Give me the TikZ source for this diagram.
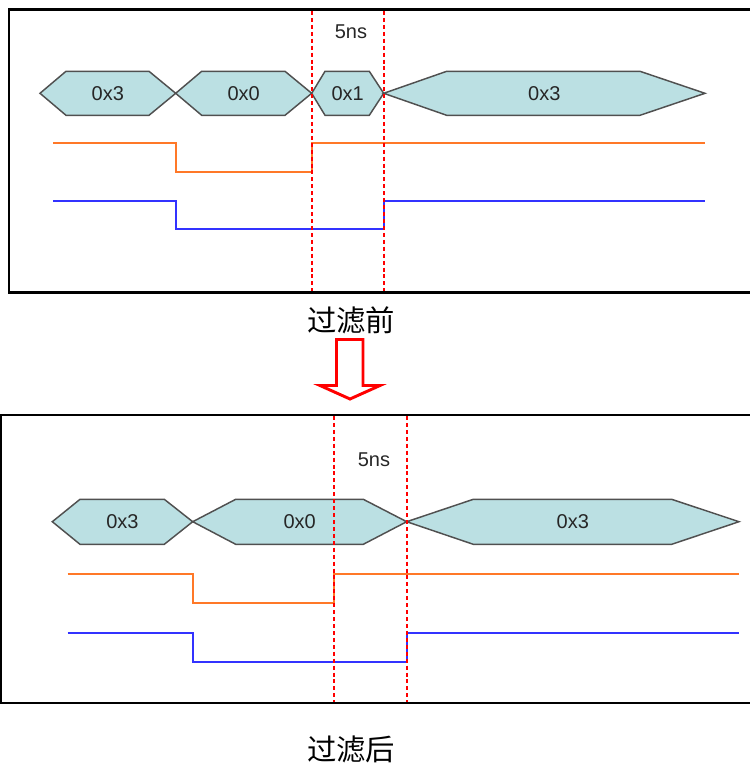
\documentclass[tikz,border=0pt]{standalone}
\usepackage{fontspec}
\setmainfont{Liberation Sans}
\newfontfamily\cjk{Noto Sans CJK SC}
\definecolor{BusFill}  {RGB}{187,224,227}
\definecolor{BusEdge}  {RGB}{80,80,80}
\definecolor{SigOrange}{RGB}{255,120,40}
\definecolor{SigBlue}  {RGB}{50,50,255}
\definecolor{CutRed}   {RGB}{255,0,0}

\begin{document}
\begin{tikzpicture}[x=0.75pt,y=-0.75pt,
  bus/.style={draw=BusEdge,fill=BusFill,line width=1.1pt,line join=miter},
  busval/.style={font=\fontsize{15}{18}\selectfont,text=black!85},
  sigA/.style={draw=SigOrange,line width=1.4pt},
  sigB/.style={draw=SigBlue,line width=1.4pt},
  cutline/.style={draw=CutRed,line width=1.3pt,dash pattern=on 3pt off 2.2pt},
  panel/.style={draw=black,line width=1.6pt},
  capt/.style={font=\cjk\fontsize{22}{26}\selectfont,inner sep=0pt}]
  \useasboundingbox (0,0) rectangle (750,765);

  % before filtering
  \draw[panel] (753,9.5) -- (9,9.5) -- (9,292.5) -- (753,292.5);
  \foreach \l/\p/\q/\r/\v [count=\i] in
      {40/66/149/175.7/0x3, 175.7/201.7/285/311.7/0x0,
       311.7/325/369.3/383.7/0x1, 383.7/446.7/640/705/0x3}
    \draw[bus] (\l,93.3) -- (\p,71.3) -- (\q,71.3) -- (\r,93.3)
      -- (\q,115.3) -- (\p,115.3) -- cycle
      node[busval] (pre\i) at ({(\l+\r)/2},93.3) {\v};
  \draw[sigA] (53.3,143.3) -| (175.7,172) -| (311.7,143.3) -- (705,143.3);
  \draw[sigB] (53.3,200.7) -| (175.7,229.3) -| (383.7,200.7) -- (705,200.7);
  \draw[cutline] (311.7,11) -- (311.7,291);
  \draw[cutline] (383.7,11) -- (383.7,291);
  \node[busval] (preT) at (351,32) {5ns};
  \node[capt] (before) at (351,320) {过滤前};

  % arrow
  \draw[draw=red,fill=white,line width=2.2pt,line join=miter]
    (336.5,339.5) -- (363,339.5) -- (363,385.5) -- (380,385.5)
    -- (350,399) -- (320,385.5) -- (336.5,385.5) -- cycle;

  % after filtering
  \draw[panel] (753,414.7) -- (1,414.7) -- (1,703) -- (753,703);
  \foreach \l/\p/\q/\r/\v [count=\i] in
      {52.3/80/164.3/192.7/0x3, 192.7/235.7/363.3/406.7/0x0,
       406.7/473.3/671.7/739/0x3}
    \draw[bus] (\l,521.7) -- (\p,499.3) -- (\q,499.3) -- (\r,521.7)
      -- (\q,544.3) -- (\p,544.3) -- cycle
      node[busval] (post\i) at ({(\l+\r)/2},521.7) {\v};
  \draw[sigA] (67.7,574) -| (193,603.3) -| (333.7,574) -- (739,574);
  \draw[sigB] (67.7,633) -| (193,662.3) -| (406.7,633) -- (739,633);
  \draw[cutline] (333.7,416) -- (333.7,702);
  \draw[cutline] (406.7,416) -- (406.7,702);
  \node[busval] (postT) at (374,460) {5ns};
  \node[capt] (after) at (351,749) {过滤后};
\end{tikzpicture}
\end{document}
